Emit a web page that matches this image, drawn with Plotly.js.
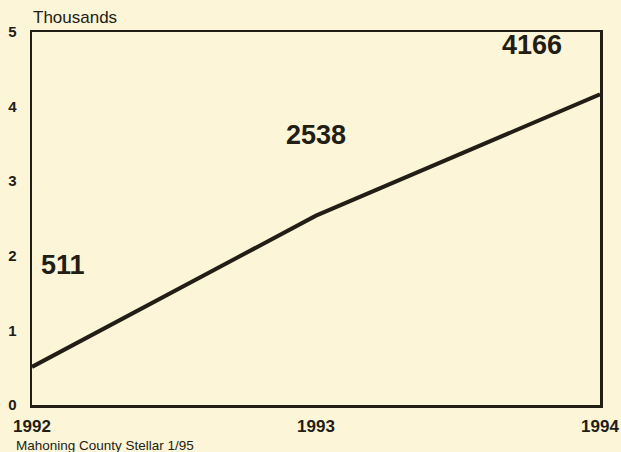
<!DOCTYPE html>
<html>
<head>
<meta charset="utf-8">
<script src="https://cdn.plot.ly/plotly-3.0.1.min.js"></script>
<style>
html,body{margin:0;padding:0;background:#fcf5d8;}
#chart{width:621px;height:452px;}
</style>
</head>
<body>
<div id="chart"></div>
<script>
var years = [1992, 1993, 1994];
var values = [511, 2538, 4166];
var yTicks = [0, 1, 2, 3, 4, 5];
var valueLabels = ["511", "2538", "4166"];
var unitLabel = "Thousands";
var sourceNote = "Mahoning County Stellar 1/95";

var ink = "#221d15";
var bg = "#fcf5d8";

var thousands = values.map(function(v){ return v / 1000; });

var trace = {
  x: years,
  y: thousands,
  type: "scatter",
  mode: "lines",
  line: {color: ink, width: 4},
  hoverinfo: "skip"
};

// Label positions (data coords) for the value callouts
var labelX = [1992.11, 1993.0, 1993.76];
var labelY = [1.88, 3.62, 4.83];

var annotations = valueLabels.map(function(t, i){
  return {
    x: labelX[i], y: labelY[i], xref: "x", yref: "y",
    text: t, showarrow: false,
    xanchor: "center", yanchor: "middle",
    font: {family: "Liberation Sans, Arial, sans-serif", size: 27, color: ink, weight: "bold"}
  };
});
annotations.push({
  x: -0.002, y: 1.038, xref: "paper", yref: "paper",
  text: unitLabel, showarrow: false, xanchor: "left", yanchor: "middle",
  font: {family: "Liberation Sans, Arial, sans-serif", size: 17, color: ink}
});
annotations.push({
  x: -0.032, y: -0.108, xref: "paper", yref: "paper",
  text: sourceNote, showarrow: false, xanchor: "left", yanchor: "middle",
  font: {family: "Liberation Sans, Arial, sans-serif", size: 13.5, color: ink}
});

var layout = {
  width: 621, height: 452,
  margin: {l: 32, r: 21, t: 32, b: 47, pad: 0},
  paper_bgcolor: bg,
  plot_bgcolor: bg,
  showlegend: false,
  xaxis: {
    range: [years[0], years[years.length-1]],
    tickvals: years,
    ticktext: years.map(String),
    showgrid: false, zeroline: false,
    showline: true, mirror: true, linecolor: ink, linewidth: 2.5,
    ticks: "", ticklabelstandoff: 4,
    tickfont: {family: "Liberation Sans, Arial, sans-serif", size: 17, color: ink, weight: "bold"}
  },
  yaxis: {
    range: [0, 5],
    tickvals: yTicks,
    ticktext: yTicks.map(String),
    showgrid: false, zeroline: false,
    showline: true, mirror: true, linecolor: ink, linewidth: 2.5,
    ticks: "", ticklabelstandoff: 10,
    tickfont: {family: "Liberation Sans, Arial, sans-serif", size: 15, color: ink, weight: "bold"}
  },
  annotations: annotations
};

Plotly.newPlot("chart", [trace], layout, {staticPlot: true, displayModeBar: false});
</script>
</body>
</html>
